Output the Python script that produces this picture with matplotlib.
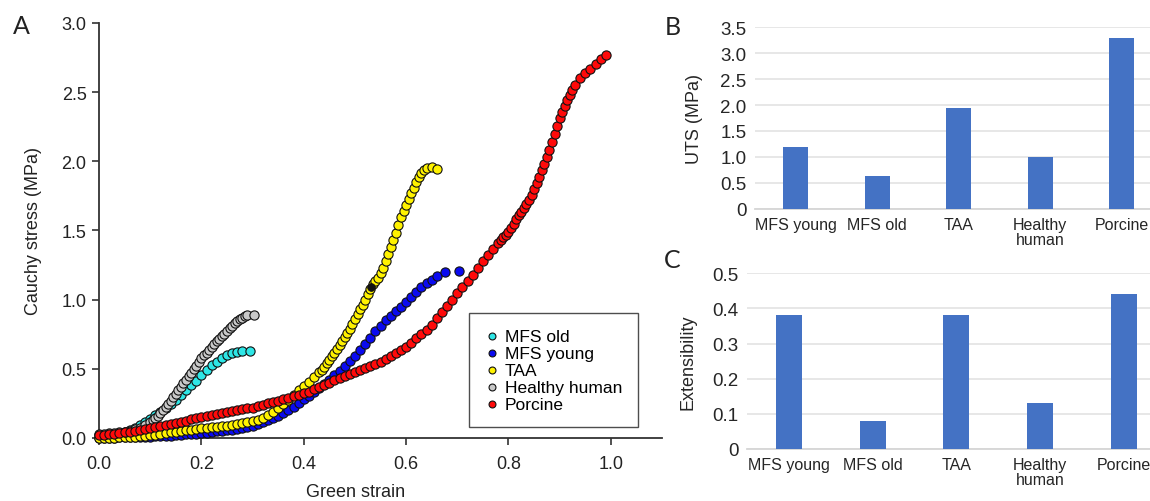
import matplotlib
matplotlib.use("Agg")
import matplotlib.pyplot as plt

plt.rcParams['font.family'] = ['Liberation Sans', 'DejaVu Sans']

# ---- panel A: stress-strain curves ----
old_strain = [0.00, 0.01, 0.02, 0.03, 0.04, 0.05, 0.06, 0.07, 0.08, 0.09,
              0.10, 0.11, 0.12, 0.13, 0.14, 0.15, 0.16, 0.17, 0.18, 0.19,
              0.20, 0.21, 0.22, 0.23, 0.24, 0.25, 0.26, 0.27, 0.28, 0.295]
old_stress = [0.020, 0.023, 0.027, 0.032, 0.038, 0.046, 0.058, 0.075, 0.095, 0.118,
              0.140, 0.163, 0.188, 0.215, 0.245, 0.275, 0.310, 0.345, 0.380, 0.415,
              0.455, 0.495, 0.525, 0.552, 0.577, 0.598, 0.614, 0.623, 0.628, 0.632]

young_strain = [0.00, 0.01, 0.02, 0.03, 0.04, 0.05, 0.06, 0.07, 0.08, 0.09,
                0.10, 0.11, 0.12, 0.13, 0.14, 0.15, 0.16, 0.17, 0.18, 0.19,
                0.20, 0.21, 0.22, 0.23, 0.24, 0.25, 0.26, 0.27, 0.28, 0.29,
                0.30, 0.31, 0.32, 0.33, 0.34, 0.35, 0.36, 0.37, 0.38, 0.39,
                0.40, 0.41, 0.42, 0.43, 0.44, 0.45, 0.46, 0.47, 0.48, 0.49,
                0.50, 0.51, 0.52, 0.53, 0.54, 0.55, 0.56, 0.57, 0.58, 0.59,
                0.60, 0.61, 0.62, 0.63, 0.64, 0.65, 0.66, 0.675, 0.703]
young_stress = [0.000, 0.001, 0.002, 0.003, 0.004, 0.005, 0.006, 0.007, 0.008, 0.009,
                0.010, 0.012, 0.014, 0.016, 0.018, 0.020, 0.023, 0.026, 0.029, 0.032,
                0.035, 0.039, 0.043, 0.047, 0.051, 0.055, 0.061, 0.067, 0.074, 0.082,
                0.090, 0.102, 0.115, 0.129, 0.144, 0.160, 0.180, 0.202, 0.226, 0.252,
                0.280, 0.306, 0.333, 0.361, 0.390, 0.420, 0.452, 0.485, 0.520, 0.556,
                0.595, 0.638, 0.682, 0.726, 0.770, 0.812, 0.850, 0.885, 0.918, 0.950,
                0.985, 1.020, 1.055, 1.088, 1.118, 1.145, 1.170, 1.198, 1.210]

taa_strain = [0.00, 0.01, 0.02, 0.03, 0.04, 0.05, 0.06, 0.07, 0.08, 0.09,
              0.10, 0.11, 0.12, 0.13, 0.14, 0.15, 0.16, 0.17, 0.18, 0.19,
              0.20, 0.21, 0.22, 0.23, 0.24, 0.25, 0.26, 0.27, 0.28, 0.29,
              0.30, 0.31, 0.32, 0.33, 0.34, 0.35, 0.36, 0.37, 0.38, 0.39,
              0.40, 0.41, 0.42, 0.43, 0.435, 0.44, 0.445, 0.45, 0.455, 0.46,
              0.465, 0.47, 0.475, 0.48, 0.485, 0.49, 0.495, 0.50, 0.505, 0.51,
              0.515, 0.52, 0.525, 0.53, 0.535, 0.54, 0.545, 0.55, 0.555, 0.56,
              0.565, 0.57, 0.575, 0.58, 0.585, 0.59, 0.595, 0.60, 0.605, 0.61,
              0.615, 0.62, 0.625, 0.63, 0.635, 0.64, 0.65, 0.66]
taa_stress = [0.000, 0.001, 0.002, 0.003, 0.004, 0.005, 0.007, 0.009, 0.012, 0.016,
              0.020, 0.025, 0.030, 0.035, 0.040, 0.045, 0.050, 0.055, 0.060, 0.065,
              0.070, 0.074, 0.078, 0.082, 0.086, 0.090, 0.096, 0.102, 0.108, 0.114,
              0.120, 0.132, 0.146, 0.165, 0.190, 0.215, 0.245, 0.275, 0.310, 0.345,
              0.375, 0.405, 0.440, 0.475, 0.495, 0.515, 0.540, 0.565, 0.590, 0.615,
              0.640, 0.670, 0.700, 0.730, 0.760, 0.790, 0.825, 0.860, 0.895, 0.930,
              0.965, 1.000, 1.040, 1.080, 1.110, 1.135, 1.160, 1.190, 1.230, 1.280,
              1.330, 1.380, 1.430, 1.485, 1.540, 1.595, 1.640, 1.685, 1.725, 1.770,
              1.810, 1.850, 1.885, 1.915, 1.940, 1.955, 1.962, 1.945]
# single dark point sitting on the TAA curve
taa_dark_strain = [0.531]
taa_dark_stress = [1.09]

healthy_strain = [0.00, 0.01, 0.02, 0.03, 0.04, 0.05, 0.06, 0.07, 0.08, 0.09,
                  0.10, 0.105, 0.11, 0.115, 0.12, 0.125, 0.13, 0.135, 0.14, 0.145,
                  0.15, 0.155, 0.16, 0.165, 0.17, 0.175, 0.18, 0.185, 0.19, 0.195,
                  0.20, 0.205, 0.21, 0.215, 0.22, 0.225, 0.23, 0.235, 0.24, 0.245,
                  0.25, 0.255, 0.26, 0.265, 0.27, 0.275, 0.28, 0.285, 0.29, 0.303]
healthy_stress = [0.030, 0.032, 0.034, 0.037, 0.041, 0.046, 0.053, 0.062, 0.075, 0.092,
                  0.115, 0.130, 0.145, 0.162, 0.180, 0.200, 0.222, 0.245, 0.270, 0.295,
                  0.320, 0.345, 0.370, 0.395, 0.420, 0.445, 0.470, 0.497, 0.524, 0.550,
                  0.575, 0.597, 0.618, 0.638, 0.658, 0.678, 0.698, 0.717, 0.736, 0.755,
                  0.775, 0.795, 0.813, 0.830, 0.845, 0.858, 0.870, 0.880, 0.888, 0.892]

porcine_strain = [0.00, 0.01, 0.02, 0.03, 0.04, 0.05, 0.06, 0.07, 0.08, 0.09,
                  0.10, 0.11, 0.12, 0.13, 0.14, 0.15, 0.16, 0.17, 0.18, 0.19,
                  0.20, 0.21, 0.22, 0.23, 0.24, 0.25, 0.26, 0.27, 0.28, 0.29,
                  0.30, 0.31, 0.32, 0.33, 0.34, 0.35, 0.36, 0.37, 0.38, 0.39,
                  0.40, 0.41, 0.42, 0.43, 0.44, 0.45, 0.46, 0.47, 0.48, 0.49,
                  0.50, 0.51, 0.52, 0.53, 0.54, 0.55, 0.56, 0.57, 0.58, 0.59,
                  0.60, 0.61, 0.62, 0.63, 0.64, 0.65, 0.66, 0.67, 0.68, 0.69,
                  0.70, 0.71, 0.72, 0.73, 0.74, 0.75, 0.76, 0.77, 0.78, 0.785,
                  0.79, 0.795, 0.80, 0.805, 0.81, 0.815, 0.82, 0.825, 0.83, 0.835,
                  0.84, 0.845, 0.85, 0.855, 0.86, 0.865, 0.87, 0.875, 0.88, 0.885,
                  0.89, 0.895, 0.90, 0.905, 0.91, 0.915, 0.92, 0.925, 0.93, 0.94,
                  0.95, 0.96, 0.97, 0.98, 0.99]
porcine_stress = [0.020, 0.023, 0.027, 0.031, 0.035, 0.040, 0.046, 0.052, 0.058, 0.064,
                  0.070, 0.078, 0.086, 0.094, 0.102, 0.110, 0.118, 0.126, 0.134, 0.142,
                  0.150, 0.158, 0.166, 0.174, 0.182, 0.190, 0.196, 0.202, 0.208, 0.214,
                  0.220, 0.230, 0.240, 0.250, 0.260, 0.270, 0.280, 0.290, 0.300, 0.310,
                  0.322, 0.336, 0.351, 0.366, 0.383, 0.400, 0.416, 0.432, 0.448, 0.464,
                  0.480, 0.494, 0.508, 0.522, 0.536, 0.550, 0.570, 0.590, 0.612, 0.635,
                  0.660, 0.690, 0.720, 0.750, 0.782, 0.820, 0.865, 0.910, 0.955, 1.000,
                  1.045, 1.090, 1.135, 1.180, 1.230, 1.280, 1.320, 1.365, 1.410, 1.430,
                  1.450, 1.470, 1.490, 1.520, 1.550, 1.580, 1.610, 1.635, 1.660, 1.690,
                  1.720, 1.760, 1.800, 1.845, 1.890, 1.935, 1.980, 2.030, 2.080, 2.140,
                  2.200, 2.255, 2.310, 2.355, 2.400, 2.440, 2.480, 2.515, 2.550, 2.600,
                  2.635, 2.670, 2.705, 2.740, 2.770]

# ---- panels B and C ----
groups = ['MFS young', 'MFS old', 'TAA', 'Healthy\nhuman', 'Porcine']
uts = [1.20, 0.63, 1.95, 1.00, 3.29]
extensibility = [0.38, 0.08, 0.38, 0.13, 0.44]

uts_ticks = [0, 0.5, 1.0, 1.5, 2.0, 2.5, 3.0, 3.5]
uts_ticklabels = ['0', '0.5', '1.0', '1.5', '2.0', '2.5', '3.0', '3.5']
ext_ticks = [0, 0.1, 0.2, 0.3, 0.4, 0.5]
ext_ticklabels = ['0', '0.1', '0.2', '0.3', '0.4', '0.5']

fig = plt.figure(figsize=(11.5, 5.02), dpi=100)

# panel A
axA = fig.add_axes([0.0861, 0.1255, 0.4896, 0.8267])
series = [
    ('MFS old', old_strain, old_stress, '#2EE6E6'),
    ('MFS young', young_strain, young_stress, '#0A0AF0'),
    ('TAA', taa_strain, taa_stress, '#FFF200'),
    ('Healthy human', healthy_strain, healthy_stress, '#C8C8C8'),
    ('Porcine', porcine_strain, porcine_stress, '#FF0A0A'),
]
for name, xs, ys, col in series:
    axA.scatter(xs, ys, s=44, color=col, edgecolors='#111111', linewidths=0.8,
                label=name, clip_on=False, zorder=3)
axA.scatter(taa_dark_strain, taa_dark_stress, s=30, color='#111111',
            edgecolors='#111111', linewidths=0.7, zorder=4)

axA.set_xlim(0, 1.1)
axA.set_ylim(0, 3.0)
axA.set_xticks([0.0, 0.2, 0.4, 0.6, 0.8, 1.0])
axA.set_yticks([0.0, 0.5, 1.0, 1.5, 2.0, 2.5, 3.0])
axA.xaxis.set_major_formatter(plt.FormatStrFormatter('%.1f'))
axA.yaxis.set_major_formatter(plt.FormatStrFormatter('%.1f'))
for side in ['top', 'right']:
    axA.spines[side].set_visible(False)
for side in ['left', 'bottom']:
    axA.spines[side].set_color('#333333')
    axA.spines[side].set_linewidth(1.3)
axA.tick_params(axis='both', direction='out', length=5, width=1.2,
                colors='#333333', labelsize=13, labelcolor='#222222')
axA.tick_params(axis='x', pad=7)
axA.tick_params(axis='y', pad=4)
axA.set_xlabel('Green strain', fontsize=13, color='#222222')
axA.set_ylabel('Cauchy stress (MPa)', fontsize=13, color='#222222')
axA.xaxis.set_label_coords(0.455, -0.108)
axA.yaxis.set_label_coords(-0.101, 0.5)

leg = axA.legend(loc='lower left', bbox_to_anchor=(0.657, 0.026), fontsize=12.5,
                 frameon=True, fancybox=False, edgecolor='#222222',
                 borderpad=0.9, labelspacing=0.1, handlelength=0.8,
                 handletextpad=0.35, markerscale=0.75, borderaxespad=0)
leg.get_frame().set_linewidth(1.0)

# panels B and C
def bar_panel(rect, values, ticks, ticklabels, ylabel, label_x):
    ax = fig.add_axes(rect)
    pos = list(range(len(groups)))
    ax.bar(pos, values, width=0.31, color='#4472C4', zorder=3)
    ax.set_xlim(-0.5, len(groups) - 0.5)
    ax.set_ylim(ticks[0], ticks[-1])
    ax.set_yticks(ticks)
    ax.set_yticklabels(ticklabels)
    ax.set_xticks(pos)
    ax.set_xticklabels(groups, fontsize=11.5, color='#262626', linespacing=0.95)
    ax.yaxis.grid(True, color='#E3E3E3', linewidth=1.2, zorder=0)
    for side in ['top', 'right', 'left']:
        ax.spines[side].set_visible(False)
    ax.spines['bottom'].set_color('#D6D6D6')
    ax.spines['bottom'].set_linewidth(1.3)
    ax.tick_params(axis='both', length=0)
    ax.tick_params(axis='y', labelsize=13.5, labelcolor='#262626', pad=6)
    ax.tick_params(axis='x', pad=6)
    ax.set_ylabel(ylabel, fontsize=13, color='#262626')
    ax.yaxis.set_label_coords(label_x, 0.5)
    return ax

axB = bar_panel([0.6565, 0.5817, 0.3543, 0.3625], uts, uts_ticks, uts_ticklabels,
                'UTS (MPa)', -0.127)
axC = bar_panel([0.6496, 0.1036, 0.3639, 0.35], extensibility, ext_ticks,
                ext_ticklabels, 'Extensibility', -0.12)

# panel letters
fig.text(21.7 / 1150, 1 - 27 / 502, 'A', fontsize=18, family='Lato',
         ha='center', va='center', color='#222222')
fig.text(673 / 1150, 1 - 27.5 / 502, 'B', fontsize=18, family='Lato',
         ha='center', va='center', color='#222222')
fig.text(672 / 1150, 1 - 261 / 502, 'C', fontsize=18, family='Lato',
         ha='center', va='center', color='#222222')

fig.savefig('out.png', dpi=100)
